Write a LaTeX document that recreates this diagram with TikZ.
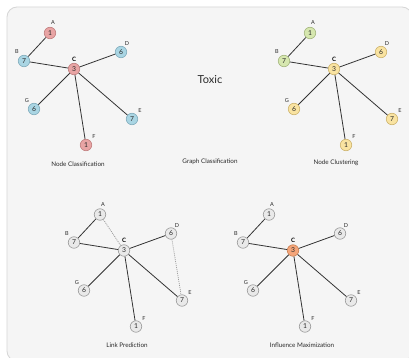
\documentclass[tikz,border=0pt]{standalone}
\usepackage{fontspec}
\setmainfont{Lato}
\definecolor{panelF}{HTML}{F5F5F5}
\definecolor{panelD}{HTML}{D6D6D6}
\definecolor{redF}{HTML}{E8A4A4}
\definecolor{redD}{HTML}{C07C7C}
\definecolor{bluF}{HTML}{A9D5E3}
\definecolor{bluD}{HTML}{7FABBB}
\definecolor{grnF}{HTML}{D6E7AF}
\definecolor{grnD}{HTML}{A3B57C}
\definecolor{yelF}{HTML}{F9E3A1}
\definecolor{yelD}{HTML}{CDB36C}
\definecolor{orgF}{HTML}{F4A57A}
\definecolor{orgD}{HTML}{C98052}
\definecolor{gryF}{HTML}{E9E9E9}
\definecolor{gryD}{HTML}{999999}
\definecolor{edgeC}{HTML}{333333}
\definecolor{txt}{HTML}{2A2A2A}
\tikzset{
  gnode/.style 2 args={circle, draw=#2, fill=#1, line width=0.6pt, minimum size=11.5pt, inner sep=0pt, text=txt, font=\fontsize{6.8}{7}\selectfont},
  nred/.style={gnode={redF}{redD}},
  nblu/.style={gnode={bluF}{bluD}},
  ngrn/.style={gnode={grnF}{grnD}},
  nyel/.style={gnode={yelF}{yelD}},
  norg/.style={gnode={orgF}{orgD}},
  ngry/.style={gnode={gryF}{gryD}},
  lbl/.style={inner sep=0pt, text=txt, font=\fontsize{5.5}{5.5}\selectfont},
  lblc/.style={inner sep=0pt, text=black, font=\fontsize{6}{6}\selectfont\bfseries},
  captxt/.style={inner sep=0pt, text=txt, font=\fontsize{6.3}{7}\selectfont},
  gedge/.style={draw=edgeC, line width=0.8pt},
  dedge/.style={draw=gryD, line width=0.7pt, dash pattern=on 1pt off 1pt},
}
\newcommand\basegraph{%
  \node[nA] (A) at (50,33) {1};
  \node[nB] (B) at (24,61) {7};
  \node[nC] (C) at (74,69) {3};
  \node[nD] (D) at (121,52) {6};
  \node[nG] (G) at (34,109) {6};
  \node[nE] (E) at (132,119) {7};
  \node[nF] (F) at (86,145) {1};
  \node[lbl] (lA) at (53,23) {A};
  \node[lbl] (lB) at (17,52) {B};
  \node[lblc] (lC) at (74,59) {C};
  \node[lbl] (lD) at (127,44) {D};
  \node[lbl] (lG) at (27,101) {G};
  \node[lbl] (lE) at (140,111) {E};
  \node[lbl] (lF) at (94,137) {F};
  \draw[gedge] (A) -- (B);
  \draw[gedge] (B) -- (C);
  \draw[gedge] (C) -- (D);
  \draw[gedge] (C) -- (G);
  \draw[gedge] (C) -- (E);
  \draw[gedge] (C) -- (F);
}
\begin{document}
\begin{tikzpicture}[x=1pt,y=-1pt]
\useasboundingbox (0,0) rectangle (409,358);
\fill[white] (0,0) rectangle (409,358);
\draw[fill=panelF, draw=panelD, line width=0.8pt, rounded corners=10pt] (7,7) rectangle (412,361);
% Node Classification
\begin{scope}[name prefix=ncl-, nA/.style={nred}, nB/.style={nblu}, nC/.style={nred}, nD/.style={nblu}, nE/.style={nblu}, nF/.style={nred}, nG/.style={nblu}]
\basegraph
\end{scope}
% Node Clustering
\begin{scope}[shift={(260,0)}, name prefix=ncu-, nA/.style={ngrn}, nB/.style={ngrn}, nC/.style={nyel}, nD/.style={nyel}, nE/.style={nyel}, nF/.style={nyel}, nG/.style={nyel}]
\basegraph
\end{scope}
% Link Prediction
\begin{scope}[shift={(50,181.5)}, name prefix=lp-, nA/.style={ngry}, nB/.style={ngry}, nC/.style={ngry}, nD/.style={ngry}, nE/.style={ngry}, nF/.style={ngry}, nG/.style={ngry}]
\basegraph
\draw[dedge] (A) -- (C);
\draw[dedge] (D) -- (E);
\end{scope}
% Influence Maximization
\begin{scope}[shift={(219,181.5)}, name prefix=im-, nA/.style={ngry}, nB/.style={ngry}, nC/.style={norg}, nD/.style={ngry}, nE/.style={ngry}, nF/.style={ngry}, nG/.style={ngry}]
\basegraph
\end{scope}
% captions
\node[inner sep=0pt, text=txt, font=\fontsize{11}{11}\selectfont] (toxic) at (210,80) {Toxic};
\node[captxt] (c1) at (78,164) {Node Classification};
\node[captxt] (c2) at (210,162) {Graph Classification};
\node[captxt] (c3) at (336,163) {Node Clustering};
\node[captxt] (c4) at (127,345) {Link Prediction};
\node[captxt] (c5) at (302,345) {Influence Maximization};
\end{tikzpicture}
\end{document}
